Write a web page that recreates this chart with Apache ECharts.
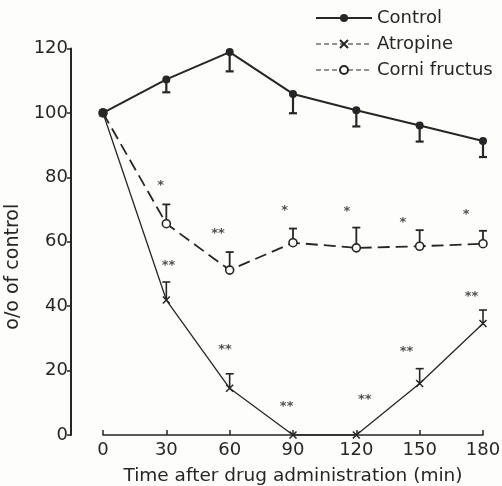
<!DOCTYPE html>
<html>
<head>
<meta charset="utf-8">
<script src="https://cdn.jsdelivr.net/npm/echarts@6/dist/echarts.min.js"></script>
<style>
  html, body { margin: 0; padding: 0; background: #fdfdfb; }
  #chart { width: 502px; height: 486px; }
</style>
</head>
<body>
<div id="chart"></div>
<script>
// time points (min)
const times = [0, 30, 60, 90, 120, 150, 180]
const xTicks = [0, 30, 60, 90, 120, 150, 180]
const yTicks = [0, 20, 40, 60, 80, 100, 120]

// % of control
const control = [100, 110.4, 118.9, 105.9, 100.8, 96.1, 91.3]
const controlErr = [0, 4, 6, 6, 5, 5, 5]
const atropine = [100, 41.9, 14.5, 0, 0, 16.0, 34.6]
const atropineErr = [0, 5.6, 4.5, 0, 0, 4.6, 4.2]
const corni = [100, 65.6, 51.2, 59.7, 58.1, 58.6, 59.4]
const corniErr = [0, 6, 5.6, 4.4, 6.3, 5, 4]

// significance marks: [time, value, text]
const corniStars = [[27.3, 77.5, '*'], [54.5, 62.5, '**'], [86, 69.8, '*'], [115.5, 69.2, '*'], [142, 65.8, '*'], [172, 68.4, '*']]
const atropineStars = [[31, 52.7, '**'], [57.8, 26.4, '**'], [87, 8.8, '**'], [124, 10.9, '**'], [143.8, 25.8, '**'], [174.6, 42.9, '**']]

const ink = '#262626'
const font = 'DejaVu Sans'

function pairs(vals, errs) {
  return times.map((t, i) => [t, vals[i], errs[i]])
}

function errBars(dir, lw) {
  return function (params, api) {
    const x = api.value(0), y = api.value(1), e = api.value(2)
    if (!e) return null
    const p0 = api.coord([x, y])
    const p1 = api.coord([x, y + dir * e])
    const hw = 4
    return {
      type: 'group',
      children: [
        { type: 'line', shape: { x1: p0[0], y1: p0[1], x2: p1[0], y2: p1[1] }, style: { stroke: ink, lineWidth: lw } },
        { type: 'line', shape: { x1: p1[0] - hw, y1: p1[1], x2: p1[0] + hw, y2: p1[1] }, style: { stroke: ink, lineWidth: lw } }
      ]
    }
  }
}

const chart = echarts.init(document.getElementById('chart'))

const option = {
  backgroundColor: '#fdfdfb',
  animation: false,
  textStyle: { fontFamily: font, color: ink },
  grid: { left: 103, right: 19, top: 48.5, bottom: 51, containLabel: false, outerBoundsMode: 'none' },
  legend: {
    orient: 'vertical',
    left: 310,
    top: 4,
    itemWidth: 56,
    itemHeight: 10,
    itemGap: 8,
    textStyle: { fontFamily: font, fontSize: 18, color: ink },
    data: [
      { name: 'Control' },
      { name: 'Atropine', lineStyle: { type: [5, 3], width: 1.2 } },
      { name: 'Corni fructus', lineStyle: { type: [5, 3], width: 1.2 } }
    ]
  },
  xAxis: {
    type: 'value',
    min: 0,
    max: 180,
    interval: 30,
    name: 'Time after drug administration (min)',
    nameLocation: 'middle',
    nameGap: 32,
    nameTextStyle: { fontSize: 18.5, color: ink, fontFamily: font },
    axisLine: { lineStyle: { color: ink, width: 1.5 } },
    axisTick: { inside: true, length: 5, lineStyle: { color: ink, width: 1.5 } },
    axisLabel: {
      fontSize: 18, color: ink, margin: 6,
      formatter: v => xTicks.includes(v) ? String(v) : ''
    },
    splitLine: { show: false }
  },
  yAxis: {
    type: 'value',
    min: 0,
    max: 120,
    interval: 20,
    offset: 32,
    name: 'o/o of control',
    nameLocation: 'middle',
    nameGap: 33,
    nameRotate: 90,
    nameTextStyle: { fontSize: 19, color: ink, fontFamily: font, padding: [0, 50, 0, 0] },
    axisLine: { show: true, onZero: false, lineStyle: { color: ink, width: 2 } },
    axisTick: { show: true, length: 4, lineStyle: { color: ink, width: 1.5 } },
    axisLabel: {
      fontSize: 18, color: ink, margin: 3,
      formatter: v => yTicks.includes(v) ? String(v) : ''
    },
    splitLine: { show: false }
  },
  series: [
    {
      name: 'Control',
      type: 'line',
      data: times.map((t, i) => [t, control[i]]),
      symbol: 'circle',
      symbolSize: 8,
      itemStyle: { color: ink },
      lineStyle: { color: ink, width: 2 },
      z: 5
    },
    {
      name: 'Atropine',
      type: 'line',
      data: times.map((t, i) => [t, atropine[i]]),
      symbol: 'path://M0,0L10,10M10,0L0,10',
      symbolSize: 7,
      itemStyle: { color: 'rgba(0,0,0,0)', borderColor: ink, borderWidth: 1.5 },
      lineStyle: { color: ink, width: 1.3 },
      z: 4
    },
    {
      name: 'Corni fructus',
      type: 'line',
      data: times.map((t, i) => [t, corni[i]]),
      symbol: 'circle',
      symbolSize: 8,
      itemStyle: { color: '#fdfdfb', borderColor: ink, borderWidth: 1.6 },
      lineStyle: { color: ink, width: 1.8, type: [12, 6] },
      z: 4
    },
    {
      name: 'controlErr',
      type: 'custom',
      renderItem: errBars(-1, 2.2),
      data: pairs(control, controlErr),
      encode: { x: 0, y: 1 },
      z: 3
    },
    {
      name: 'atropineErr',
      type: 'custom',
      renderItem: errBars(1, 1.6),
      data: pairs(atropine, atropineErr),
      encode: { x: 0, y: 1 },
      z: 3
    },
    {
      name: 'corniErr',
      type: 'custom',
      renderItem: errBars(1, 1.8),
      data: pairs(corni, corniErr),
      encode: { x: 0, y: 1 },
      z: 3
    },
    {
      name: 'stars',
      type: 'scatter',
      symbol: 'circle',
      symbolSize: 2,
      itemStyle: { color: 'rgba(0,0,0,0)' },
      data: corniStars.concat(atropineStars),
      encode: { x: 0, y: 1 },
      label: {
        show: true,
        position: 'inside',
        formatter: p => p.data[2],
        fontSize: 13,
        fontWeight: 'bold',
        color: ink
      },
      z: 6
    }
  ]
}

chart.setOption(option)
</script>
</body>
</html>
